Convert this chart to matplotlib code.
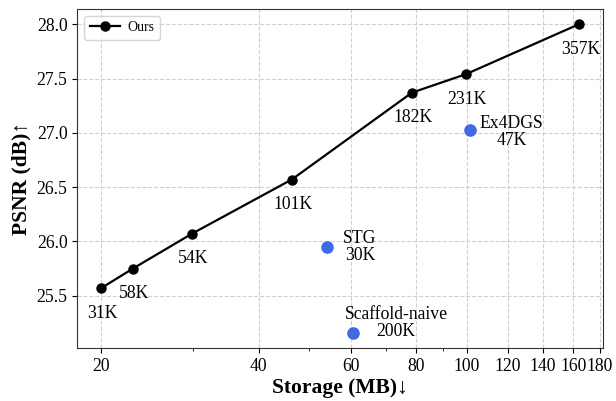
import matplotlib
matplotlib.use("Agg")
import matplotlib.pyplot as plt
from matplotlib.ticker import FixedLocator, NullFormatter, FixedFormatter

plt.rcParams['font.family'] = ['Liberation Serif', 'DejaVu Serif']

# Ours curve
ours_storage = [20.0, 23.0, 29.8, 46.3, 78.6, 99.7, 164.0]
ours_psnr = [25.57, 25.75, 26.07, 26.57, 27.37, 27.54, 28.00]
ours_labels = ["31K", "58K", "54K", "101K", "182K", "231K", "357K"]

# Other methods
other_names = ["Ex4DGS", "STG", "Scaffold-naive"]
other_counts = ["47K", "30K", "200K"]
other_storage = [101.5, 54.0, 60.6]
other_psnr = [27.03, 25.95, 25.16]

xticks = [20, 40, 60, 80, 100, 120, 140, 160, 180]
xminor = [30, 50, 70, 90]
yticks = [25.5, 26.0, 26.5, 27.0, 27.5, 28.0]

fig = plt.figure(figsize=(6.16, 4.01), dpi=100)
ax = fig.add_axes([0.1255, 0.132, 0.853, 0.846])

ax.set_xscale('log')
ax.plot(ours_storage, ours_psnr, '-o', color='black', lw=1.6, ms=6.5, label='Ours', zorder=3)
ax.scatter(other_storage, other_psnr, s=65, color='#4169E1', zorder=3)

for x, y, t in zip(ours_storage, ours_psnr, ours_labels):
    ax.annotate(t, (x, y), xytext=(1, -18), textcoords='offset points',
                ha='center', va='center', fontsize=12.7)

other_offsets = [(30, -2), (24, 0), (31, 7)]
for x, y, n, c, off in zip(other_storage, other_psnr, other_names, other_counts, other_offsets):
    ax.annotate(n + "\n" + c, (x, y), xytext=off, textcoords='offset points',
                ha='center', va='center', fontsize=12.7, multialignment='center',
                linespacing=1.0)

ax.xaxis.set_major_locator(FixedLocator(xticks))
ax.xaxis.set_major_formatter(FixedFormatter([str(v) for v in xticks]))
ax.xaxis.set_minor_locator(FixedLocator(xminor))
ax.xaxis.set_minor_formatter(NullFormatter())
ax.set_yticks(yticks)
ax.set_yticklabels([f"{v:.1f}" for v in yticks])
ax.tick_params(labelsize=12.7)

ax.grid(True, which='major', linestyle='--', color='#d0d0d0', lw=0.8)
ax.set_axisbelow(True)

ax.set_xlabel("Storage (MB)↓", fontsize=15.5, fontweight='bold', labelpad=2)
ax.set_ylabel("PSNR (dB)↑", fontsize=15.5, fontweight='bold', labelpad=4)

for s in ax.spines.values():
    s.set_color('#333333')

ax.legend(loc='upper left', fontsize=10, handlelength=2.2, handletextpad=0.5)

fig.savefig("out.png", dpi=100)
